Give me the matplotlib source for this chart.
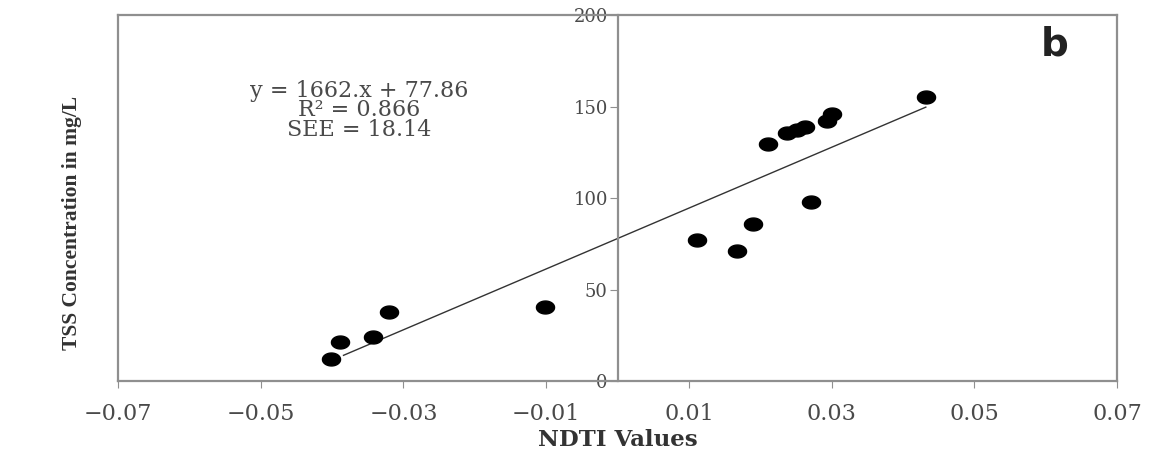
import numpy as np
import matplotlib.pyplot as plt
from matplotlib.path import Path

# NDTI vs TSS (panel b)
ndti = [-0.0401, -0.0389, -0.0343, -0.0320, -0.0102,
        0.0111, 0.0167, 0.0190, 0.0211, 0.0238, 0.0252, 0.0263,
        0.0271, 0.0293, 0.0300, 0.0432]
tss = [12.0, 21.1, 23.8, 37.8, 40.5,
       76.8, 71.0, 85.9, 129.5, 135.5, 137.0, 138.6,
       97.7, 141.9, 146.0, 155.0]
slope, intercept = 1662, 77.86
eq_lines = ["y = 1662.x + 77.86", "R² = 0.866", "SEE = 18.14"]
xticks = [-0.07, -0.05, -0.03, -0.01, 0.01, 0.03, 0.05, 0.07]
yticks = [0, 50, 100, 150, 200]

plt.rcParams['font.family'] = ['DejaVu Serif']
grey = '#8f8f8f'
txt = '#4a4a4a'

fig = plt.figure(figsize=(11.49, 4.55), dpi=100)
ax = fig.add_axes([0.1027, 0.1626, 0.8695, 0.8044])
ax.set_xlim(-0.07, 0.07)
ax.set_ylim(0, 200)

# flat ellipse marker
t = np.linspace(0, 2 * np.pi, 40)
ell = Path(np.column_stack([1.4 * np.cos(t), np.sin(t)]), closed=True)
ax.scatter(ndti, tss, marker=ell, s=170, color='black', zorder=3)

xl = np.array([min(ndti) + 0.0017, max(ndti)])
ax.plot(xl, slope * xl + intercept, color='#333333', lw=1.0)

ax.text(-0.0362, 148, "\n".join(eq_lines), ha='center', va='center',
        fontsize=16, color=txt, linespacing=0.85)
ax.text(0.0612, 184, "b", ha='center', va='center', fontsize=28,
        fontweight='bold', family='DejaVu Sans', color='#222222')

for s in ax.spines.values():
    s.set_color(grey)
    s.set_linewidth(1.6)
ax.spines['left'].set_position(('data', 0))
ax.axvline(-0.07, color=grey, lw=1.6, clip_on=False)

ax.set_xticks(xticks)
ax.set_xticklabels([f"{v:.2f}".replace('-', '−') for v in xticks])
ax.set_yticks(yticks)
ax.tick_params(axis='x', direction='out', length=5, color=grey,
               labelsize=16, labelcolor=txt, pad=11)
ax.tick_params(axis='y', direction='out', length=6, color=grey,
               labelsize=13, labelcolor=txt, pad=1)

ax.set_xlabel("NDTI Values", fontsize=16.5, fontweight='bold', color='#333333', labelpad=3)
fig.text(0.063, 0.51, "TSS Concentration in mg/L", rotation=90, ha='center',
         va='center', fontsize=15.5, fontweight='bold', color='#333333',
         family='Liberation Serif')

fig.savefig("out.png", dpi=100)
